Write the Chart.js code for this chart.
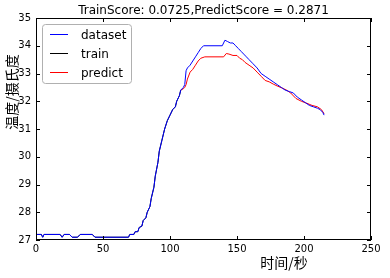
<!DOCTYPE html>
<html><head><meta charset="utf-8">
<script src="https://cdn.jsdelivr.net/npm/chart.js@4/dist/chart.umd.min.js"></script>
<style>html,body{margin:0;padding:0;background:#fff}#wrap{width:390px;height:278px}</style>
</head><body><div id="wrap"><canvas id="c" width="390" height="278"></canvas></div>
<script>
const titleText = "TrainScore: 0.0725,PredictScore = 0.2871";
const xLabel = "时间/秒";
const yLabel = "温度/摄氏度";
const seriesNames = ["dataset", "train", "predict"];
const xTicks = [0, 50, 100, 150, 200, 250];
const yTicks = [27, 28, 29, 30, 31, 32, 33, 34, 35];

const datasetX = [0,4,5,6,18,19.5,21,25,27,31,33,42,44,69,70,73,74,76,77,79,80,82,83,85,86,88,89,91,92,94,96,98,100,102,104,105,107,108,110,111,112,113,115,117,119,121,123,125,139,141,143,145,147,149,151,153,155,157,159,162,165,168,171,174,177,180,183,186,189,192,195,198,201,204,207,210,212,214,215];
const datasetY = [27.2,27.2,27.1,27.2,27.2,27.1,27.2,27.2,27.1,27.1,27.2,27.2,27.1,27.1,27.2,27.2,27.3,27.3,27.45,27.5,27.7,27.8,28.0,28.2,28.5,28.9,29.3,29.8,30.2,30.6,31.0,31.3,31.5,31.7,31.8,32.0,32.2,32.4,32.5,32.6,33.1,33.2,33.3,33.45,33.6,33.75,33.9,34.0,34.0,34.2,34.15,34.1,34.1,34.0,33.9,33.8,33.7,33.6,33.5,33.35,33.2,33.0,32.9,32.8,32.7,32.6,32.5,32.4,32.35,32.3,32.15,32.05,31.95,31.85,31.8,31.75,31.7,31.6,31.5];

const trainX = [0,4,5,6,18,19.5,21,25,27,31,33,42,44,69,70,73,74,76,77,79,80,82,83,85,86,88,89,91,92,94,96,98,100,102,104,105,107,108];
const trainY = [27.2,27.2,27.1,27.2,27.2,27.1,27.2,27.2,27.1,27.1,27.2,27.2,27.1,27.1,27.2,27.2,27.3,27.3,27.45,27.5,27.7,27.8,28.0,28.2,28.5,28.9,29.3,29.8,30.2,30.6,31.0,31.3,31.5,31.7,31.8,32.0,32.2,32.4];

const predictX = [108,110,111,112,113,115,117,119,121,123,126,140,142,144,147,150,152,154,156,159,162,165,168,171,174,177,180,184,187,190,194,198,202,206,210,213,215];
const predictY = [32.4,32.45,32.5,32.6,32.8,33.05,33.15,33.3,33.45,33.55,33.6,33.6,33.72,33.7,33.65,33.65,33.55,33.5,33.4,33.3,33.2,33.05,32.9,32.75,32.7,32.62,32.55,32.47,32.4,32.3,32.1,32.0,31.93,31.85,31.8,31.7,31.55];

const colors = ["#0000ff", "#000000", "#ff0000"];
const pts = (xs, ys) => xs.map((x, i) => ({x: x, y: ys[i]}));

const overlay = {
  id: 'overlay',
  afterDraw(chart) {
    const ctx = chart.ctx, a = chart.chartArea;
    const xs = chart.scales.x, ys = chart.scales.y;
    ctx.save();
    // frame
    ctx.strokeStyle = '#000'; ctx.lineWidth = 1;
    ctx.strokeRect(Math.round(a.left) + 0.5, Math.round(a.top) + 0.5, Math.round(a.right - a.left) - 1, Math.round(a.bottom - a.top) - 1);
    // ticks
    ctx.beginPath();
    const tl = 4;
    xTicks.forEach(v => {
      const px = Math.round(xs.getPixelForValue(v)) + 0.5;
      ctx.moveTo(px, a.bottom); ctx.lineTo(px, a.bottom - tl);
      ctx.moveTo(px, a.top); ctx.lineTo(px, a.top + tl);
    });
    yTicks.forEach(v => {
      const py = Math.round(ys.getPixelForValue(v)) + 0.5;
      ctx.moveTo(a.left, py); ctx.lineTo(a.left + tl, py);
      ctx.moveTo(a.right, py); ctx.lineTo(a.right - tl, py);
    });
    ctx.stroke();
    // tick labels
    ctx.fillStyle = '#000';
    ctx.font = '10px "DejaVu Sans"';
    ctx.textAlign = 'center'; ctx.textBaseline = 'top';
    xTicks.forEach(v => ctx.fillText(String(v), xs.getPixelForValue(v), a.bottom + 4));
    ctx.textAlign = 'right'; ctx.textBaseline = 'middle';
    yTicks.forEach(v => ctx.fillText(String(v), a.left - 5, ys.getPixelForValue(v)));
    // title
    ctx.font = '12px "DejaVu Sans"';
    ctx.textAlign = 'center'; ctx.textBaseline = 'alphabetic';
    ctx.fillText(titleText, (a.left + a.right) / 2, 14);
    // axis labels
    ctx.font = '14px "Noto Sans CJK SC"';
    ctx.textAlign = 'center'; ctx.textBaseline = 'middle';
    ctx.fillText(xLabel, 284, 263);
    ctx.save();
    ctx.translate(12, 92); ctx.rotate(-Math.PI / 2);
    ctx.fillText(yLabel, 0, 0);
    ctx.restore();
    // legend
    const bx = 42.5, by = 24.5, bw = 89, bh = 59, r = 3;
    ctx.fillStyle = '#fff'; ctx.strokeStyle = '#b0b0b0';
    ctx.beginPath();
    ctx.moveTo(bx + r, by); ctx.lineTo(bx + bw - r, by); ctx.arcTo(bx + bw, by, bx + bw, by + r, r);
    ctx.lineTo(bx + bw, by + bh - r); ctx.arcTo(bx + bw, by + bh, bx + bw - r, by + bh, r);
    ctx.lineTo(bx + r, by + bh); ctx.arcTo(bx, by + bh, bx, by + bh - r, r);
    ctx.lineTo(bx, by + r); ctx.arcTo(bx, by, bx + r, by, r);
    ctx.closePath(); ctx.fill(); ctx.stroke();
    ctx.font = '12px "DejaVu Sans"';
    ctx.textAlign = 'left'; ctx.textBaseline = 'alphabetic';
    const rows = [34, 53, 72];
    seriesNames.forEach((n, i) => {
      ctx.strokeStyle = colors[i]; ctx.lineWidth = 1;
      ctx.beginPath(); ctx.moveTo(50, rows[i] + 0.5); ctx.lineTo(68, rows[i] + 0.5); ctx.stroke();
      ctx.fillStyle = '#000';
      ctx.fillText(n, 81, rows[i] + 5);
    });
    ctx.restore();
  }
};

new Chart(document.getElementById('c'), {
  type: 'scatter',
  data: {
    datasets: [
      {label: seriesNames[0], data: pts(datasetX, datasetY), borderColor: colors[0]},
      {label: seriesNames[1], data: pts(trainX, trainY), borderColor: colors[1]},
      {label: seriesNames[2], data: pts(predictX, predictY), borderColor: colors[2]}
    ].map(d => Object.assign(d, {showLine: true, pointRadius: 0, borderWidth: 1, tension: 0, fill: false}))
  },
  options: {
    responsive: false, animation: false, devicePixelRatio: 1,
    layout: {padding: {left: 36, top: 18, right: 19, bottom: 38}},
    plugins: {legend: {display: false}, tooltip: {enabled: false}, title: {display: false}},
    scales: {
      x: {type: 'linear', min: 0, max: 250, display: false},
      y: {type: 'linear', min: 27, max: 35, display: false}
    }
  },
  plugins: [overlay]
});
</script></body></html>
